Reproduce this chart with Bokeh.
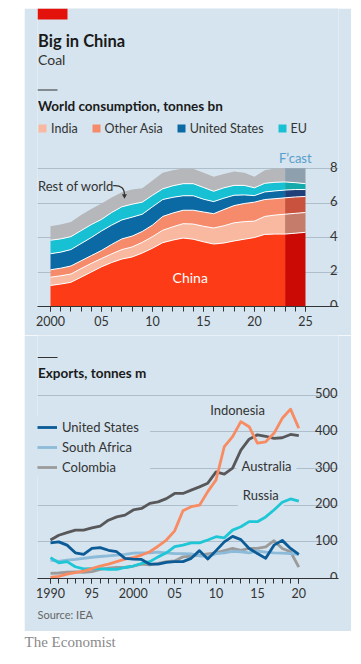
import numpy as np
from bokeh.plotting import figure
from bokeh.layouts import column
from bokeh.models import Range1d, FixedTicker, Grid, Legend, LegendItem, Label, Title
from bokeh.core.properties import value
from bokeh.embed import file_html
from bokeh.resources import INLINE

# ---------------- data ----------------
years = list(range(2000, 2026))
china = [1.22, 1.30, 1.40, 1.70, 2.00, 2.30, 2.55, 2.75, 2.87, 3.10, 3.38, 3.70, 3.85,
         3.97, 3.90, 3.75, 3.62, 3.68, 3.80, 3.90, 4.00, 4.18, 4.20, 4.20, 4.25, 4.30]
india = [0.48, 0.48, 0.48, 0.50, 0.50, 0.48, 0.50, 0.55, 0.58, 0.62, 0.67, 0.72, 0.77,
         0.83, 0.88, 0.90, 0.93, 1.00, 1.05, 1.02, 0.95, 1.04, 1.10, 1.15, 1.15, 1.15]
other_asia = [0.43, 0.44, 0.47, 0.45, 0.45, 0.47, 0.55, 0.62, 0.63, 0.63, 0.67, 0.80, 0.80,
              0.78, 0.80, 0.83, 0.83, 0.94, 1.00, 1.05, 1.10, 0.98, 0.95, 0.95, 0.95, 0.93]
united_states = [0.93, 0.93, 0.95, 1.00, 1.05, 1.13, 1.12, 1.10, 1.10, 1.00, 1.06, 0.98, 0.91,
                 0.84, 0.84, 0.74, 0.70, 0.66, 0.60, 0.50, 0.38, 0.44, 0.45, 0.45, 0.43, 0.40]
eu = [0.78, 0.77, 0.75, 0.75, 0.75, 0.67, 0.73, 0.76, 0.75, 0.70, 0.67, 0.62, 0.67,
      0.70, 0.70, 0.68, 0.60, 0.60, 0.57, 0.55, 0.45, 0.50, 0.50, 0.47, 0.40, 0.34]
rest_of_world = [0.81, 0.83, 0.85, 0.90, 0.90, 0.92, 0.87, 0.84, 0.85, 0.80, 0.85, 0.93, 0.90,
                 0.88, 0.86, 0.85, 0.84, 0.80, 0.80, 0.73, 0.64, 0.76, 0.80, 0.80, 0.84, 0.90]
forecast_start = 2023
cons_ticks = [0, 2, 4, 6, 8]
cons_tick_labels = ["0", "2", "4", "6", "8"]
cons_year_ticks = [2000, 2005, 2010, 2015, 2020, 2025]
cons_year_labels = ["2000", "05", "10", "15", "20", "25"]
cons_names = ["China", "India", "Other Asia", "United States", "EU", "Rest of world"]

exp_years = list(range(1990, 2021))
australia = [105, 118, 125, 132, 132, 138, 143, 159, 168, 173, 187, 191, 205, 209, 218, 232,
             232, 241, 250, 260, 291, 285, 301, 350, 380, 392, 388, 382, 384, 393, 390]
indonesia = [3, 6, 12, 16, 20, 27, 34, 39, 46, 53, 57, 64, 73, 88, 105, 130,
             185, 196, 200, 237, 269, 360, 387, 428, 414, 369, 373, 396, 437, 462, 410]
russia = [57, 43, 46, 32, 26, 27, 27, 25, 25, 30, 34, 41, 46, 59, 70, 87,
          91, 97, 97, 105, 114, 111, 132, 141, 155, 155, 168, 187, 208, 217, 211]
us_exports = [97, 100, 91, 70, 66, 82, 84, 77, 73, 55, 53, 52, 39, 39, 44, 46,
              46, 55, 76, 53, 76, 100, 115, 106, 82, 68, 55, 91, 104, 82, 66]
south_africa = [50, 47, 50, 52, 55, 58, 60, 62, 64, 66, 69, 70, 70, 72, 70, 68,
                68, 67, 62, 60, 68, 70, 74, 73, 70, 75, 72, 70, 69, 68, 66]
colombia = [14, 15, 17, 18, 17, 19, 25, 28, 30, 30, 34, 39, 37, 41, 46, 48,
            59, 61, 64, 67, 70, 76, 82, 77, 82, 82, 86, 103, 82, 73, 31]
exp_ticks = [0, 100, 200, 300, 400, 500]
exp_tick_labels = ["0", "100", "200", "300", "400", "500"]
exp_year_ticks = [1990, 1995, 2000, 2005, 2010, 2015, 2020]
exp_year_labels = ["1990", "95", "2000", "05", "10", "15", "20"]

# ---------------- style / layout constants ----------------
BG = "#d5e4ee"
GRID = "#aebecb"
FONT = "Lato"
DARK = "#1a1a1a"
GREY = "#333333"
W = 327
hist_colors = ["#fd3b16", "#f9b8a0", "#f68b6c", "#0b69a3", "#18c0d4", "#b5b7ba"]
fc_colors = ["#cc0a05", "#c67c6b", "#c9523e", "#1f4078", "#14a9ab", "#8ea0ae"]

FRAME_L = 37          # page x of frame left edge
FRAME_W = 301

# consumption chart geometry (page pixels)
T_TOP, T_BOT = 8, 306
T_PPX, T_PPU = 10.2, 17.25
t_x0 = 2000 - (50 - FRAME_L) / T_PPX
t_x1 = t_x0 + FRAME_W / T_PPX
t_y1 = (T_BOT - T_TOP) / T_PPU


def tx(px):
    return t_x0 + (px - FRAME_L) / T_PPX


def ty(py):
    return (T_BOT - py) / T_PPU


# exports chart geometry
B_TOP, B_BOT = 335, 578
B_PPX, B_PPU = 8.277, 193 / 526.5
b_x0 = 1990 - (50 - FRAME_L) / B_PPX
b_x1 = b_x0 + FRAME_W / B_PPX
b_y1 = (B_BOT - B_TOP) / B_PPU


def bxp(px):
    return b_x0 + (px - FRAME_L) / B_PPX


def byp(py):
    return (B_BOT - py) / B_PPU


def style_xaxis(axis, ticks, minor, labels):
    axis.ticker = FixedTicker(ticks=ticks, minor_ticks=minor)
    axis.major_label_overrides = {t: l for t, l in zip(ticks, labels)}
    axis.axis_line_color = GREY
    axis.major_tick_line_color = GREY
    axis.minor_tick_line_color = GREY
    axis.major_tick_out = 5
    axis.major_tick_in = 0
    axis.minor_tick_out = 5
    axis.minor_tick_in = 0
    axis.major_label_text_font = FONT
    axis.major_label_text_font_size = "12.5px"
    axis.major_label_text_color = GREY
    axis.major_label_standoff = 4


def txt(p, x, y, s, size, color=DARK, style="normal", align="left", baseline="alphabetic"):
    p.text(x=[x], y=[y], text=[s], text_font=value(FONT), text_font_size=size,
           text_font_style=style, text_color=color, text_baseline=baseline,
           text_align=align)


# ---------------- consumption chart (with page header) ----------------
top = figure(width=W, height=T_BOT - T_TOP + 29, x_range=Range1d(t_x0, t_x1),
             y_range=Range1d(0, t_y1), toolbar_location=None, output_backend="svg",
             min_border_left=13, min_border_right=13, min_border_top=0,
             min_border_bottom=29, background_fill_color=BG, border_fill_color=BG,
             outline_line_color=None, y_axis_location=None)
top.grid.visible = False
top.add_layout(Grid(dimension=1, ticker=FixedTicker(ticks=cons_ticks[1:]),
                    grid_line_color=GRID, grid_line_width=1))

# header
top.quad(left=[tx(37)], right=[tx(67)], top=[ty(8)], bottom=[ty(19)],
         fill_color="#e3120b", line_color=None)
txt(top, tx(37.5), ty(40), "Big in China", "16.5px", style="bold")
txt(top, tx(37.5), ty(59), "Coal", "14px", color=GREY)
top.segment(x0=[tx(37)], x1=[tx(57)], y0=[ty(89.5)], y1=[ty(89.5)],
            line_color=GREY, line_width=1)
txt(top, tx(37.5), ty(105.5), "World consumption, tonnes bn", "13.5px", style="bold")

layers = np.array([china, india, other_asia, united_states, eu, rest_of_world])
cum = np.cumsum(layers, axis=0)
lower = np.vstack([np.zeros(len(years)), cum[:-1]])
yrs = np.array(years)
hist = yrs <= forecast_start
fc = yrs >= forecast_start
hist_r = []
for i in range(len(layers)):
    r = top.varea(x=yrs[hist], y1=lower[i][hist], y2=cum[i][hist],
                  fill_color=hist_colors[i])
    hist_r.append(r)
    top.varea(x=yrs[fc], y1=lower[i][fc], y2=cum[i][fc], fill_color=fc_colors[i])
for i in range(len(layers) - 1):
    top.line(yrs, cum[i], line_color="white", line_width=1)

txt(top, 2013.7, 1.68, "China", "14px", color="white", align="center", baseline="middle")
txt(top, tx(37.5), 6.96, "Rest of world", "13px", color=GREY, baseline="middle")
top.bezier(x0=[2006.1], y0=[7.0], x1=[2007.25], y1=[6.5], cx0=[2006.9], cy0=[7.06],
           cx1=[2007.25], cy1=[6.85], line_color=GREY, line_width=1.2)
top.scatter(x=[2007.25], y=[6.42], marker="triangle", size=5, angle=np.pi,
            fill_color=GREY, line_color=None)
txt(top, 2024.0, 8.6, "F\u2019cast", "13px", color="#5a9ecb", align="center")
top.text(x=[t_x1] * len(cons_ticks), y=cons_ticks, text=cons_tick_labels,
         text_font=value(FONT), text_font_size="13px", text_color=GREY,
         text_align="right", text_baseline="alphabetic", y_offset=-2, x_offset=-1)

style_xaxis(top.xaxis[0], cons_year_ticks, years, cons_year_labels)

leg = Legend(items=[LegendItem(label=cons_names[i], renderers=[hist_r[i]]) for i in range(1, 5)],
             orientation="horizontal", location=(0, 170), padding=0, margin=0,
             spacing=13, glyph_width=10, glyph_height=10, label_standoff=4,
             label_height=16, label_text_font=FONT, label_text_font_size="12.5px",
             label_text_color=GREY, background_fill_alpha=0,
             border_line_color=None)
top.add_layout(leg)

# ---------------- exports chart (with its heading and source) ----------------
bot = figure(width=W, height=631 - B_TOP, x_range=Range1d(b_x0, b_x1),
             y_range=Range1d(0, b_y1), toolbar_location=None, output_backend="svg",
             min_border_left=13, min_border_right=13, min_border_top=0,
             min_border_bottom=631 - B_BOT, background_fill_color=BG,
             border_fill_color=BG, outline_line_color=None, y_axis_location=None)
bot.grid.visible = False
bot.add_layout(Grid(dimension=1, ticker=FixedTicker(ticks=exp_ticks[1:]),
                    grid_line_color=GRID, grid_line_width=1))

bot.segment(x0=[bxp(37)], x1=[bxp(57)], y0=[byp(357)], y1=[byp(357)],
            line_color=GREY, line_width=1)
txt(bot, bxp(37.5), byp(372), "Exports, tonnes m", "13.5px", style="bold")

series = [("Colombia", colombia, "#9b9b9b"),
          ("South Africa", south_africa, "#8cbad9"),
          ("Australia", australia, "#58585a"),
          ("Russia", russia, "#1ec6d6"),
          ("Indonesia", indonesia, "#f98b63"),
          ("United States", us_exports, "#0a5b96")]
lr = {}
for name, vals, col in series:
    lr[name] = bot.line(exp_years, vals, line_color=col, line_width=2.8,
                        line_join="round")

bot.text(x=[b_x1] * len(exp_ticks), y=exp_ticks, text=exp_tick_labels,
         text_font=value(FONT), text_font_size="13px", text_color=GREY,
         text_align="right", text_baseline="alphabetic", y_offset=-2, x_offset=-1)
txt(bot, 2012.6, 460, "Indonesia", "13px", color=GREY, align="center", baseline="middle")
for s, xx, yy in [("Australia", 2016.1, 307), ("Russia", 2015.4, 227)]:
    kw = dict(x=xx, y=yy, text=s, text_font=FONT, text_font_size="13px",
              text_color=GREY, text_align="center", text_baseline="middle",
              background_fill_color=BG, level="underlay")
    try:
        lab = Label(padding=5, **kw)
    except Exception:
        lab = Label(**kw)
    bot.add_layout(lab)

style_xaxis(bot.xaxis[0], exp_year_ticks, exp_years, exp_year_labels)

leg2 = Legend(items=[LegendItem(label=n, renderers=[lr[n]])
                     for n in ["United States", "South Africa", "Colombia"]],
              orientation="vertical", location=(0, 101), padding=0, margin=0,
              spacing=0, glyph_width=20, glyph_height=20, label_height=20,
              label_width=88, label_standoff=5, label_text_font=FONT,
              label_text_font_size="13px", label_text_color=GREY,
              background_fill_color=BG, background_fill_alpha=1,
              border_line_color=None)
bot.add_layout(leg2)

src = Title(text="Source: IEA", align="left", text_font=FONT, text_font_size="11px",
            text_color="#666666", text_font_style="normal", standoff=11)
bot.add_layout(src, "below")

# ---------------- footer ----------------
foot = figure(width=W, height=30, x_range=Range1d(0, 1), y_range=Range1d(0, 1),
              toolbar_location=None, output_backend="svg", x_axis_location=None,
              y_axis_location=None, min_border_left=13, min_border_right=13,
              min_border_top=0, min_border_bottom=0,
              background_fill_color="white", border_fill_color="white",
              outline_line_color=None)
foot.grid.visible = False
foot.title = Title(text="The Economist", align="left", offset=-13, standoff=0,
                   text_font="Liberation Serif", text_font_size="15px",
                   text_font_style="normal", text_color="#8a8a8a")

layout = column(top, bot, foot, spacing=0, margin=(8, 0, 0, 24))

open("out.html", "w").write(file_html(layout, INLINE))
